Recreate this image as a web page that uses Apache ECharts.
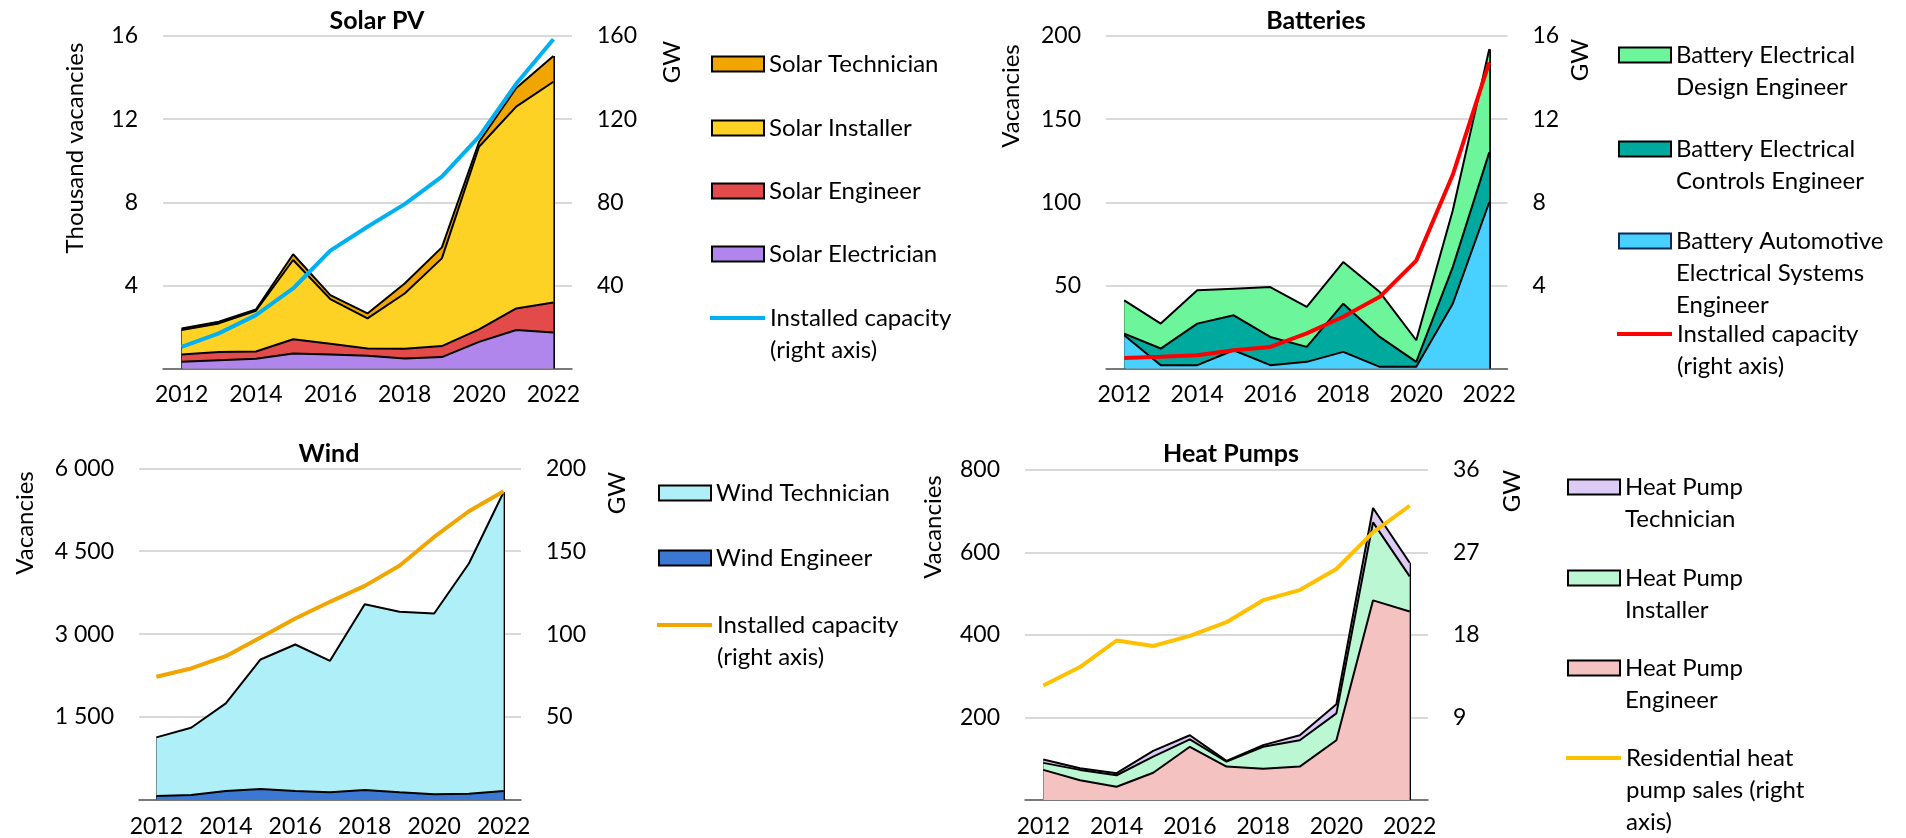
<!DOCTYPE html>
<html>
<head>
<meta charset="utf-8">
<title>Clean energy vacancies</title>
<script src="https://cdn.jsdelivr.net/npm/echarts@6.0.0/dist/echarts.min.js"></script>
<style>
  html, body { margin: 0; padding: 0; background: #fff; }
  #chart { width: 1906px; height: 838px; }
</style>
</head>
<body>
<div id="chart"></div>
<script>
const years = ['2012', '2013', '2014', '2015', '2016', '2017', '2018', '2019', '2020', '2021', '2022'];

// Solar PV - thousand vacancies, capacity in GW
const solarElectrician = [0.32, 0.40, 0.47, 0.72, 0.67, 0.61, 0.48, 0.55, 1.28, 1.85, 1.73];
const solarEngineer = [0.35, 0.39, 0.35, 0.69, 0.52, 0.35, 0.47, 0.53, 0.60, 1.04, 1.45];
const solarInstaller = [1.18, 1.38, 1.96, 3.81, 2.15, 1.45, 2.66, 4.22, 8.79, 9.71, 10.62];
const solarTechnician = [0.08, 0.08, 0.06, 0.28, 0.19, 0.24, 0.48, 0.53, 0.23, 0.90, 1.24];
const solarCapacity = [10.4, 16.9, 25.7, 38.5, 56.7, 68.2, 79.1, 92.3, 111.6, 137, 158.4];

// Batteries - vacancies, capacity in GW
const batteryAutomotive = [20, 2, 2, 11, 2, 4, 10, 1, 1, 39, 100];
const batteryControls = [1, 10, 25, 21, 17, 9, 29, 18, 3, 22, 30];
const batteryDesign = [20, 15, 20, 16, 30, 24, 25, 27, 13, 34, 62];
const batteryCapacity = [0.51, 0.56, 0.64, 0.88, 1.04, 1.69, 2.49, 3.45, 5.19, 9.32, 14.73];

// Wind - vacancies, capacity in GW
const windEngineer = [72, 90, 163, 199, 163, 139, 181, 139, 102, 114, 163];
const windTechnician = [1061, 1217, 1584, 2343, 2650, 2379, 3361, 3265, 3271, 4163, 5409];
const windCapacity = [74.3, 79.3, 86.7, 98, 109.4, 119.5, 129.1, 141.2, 158.6, 174.1, 186.2];

// Heat pumps - vacancies, residential sales in GW
const hpEngineer = [73, 48, 32, 66, 129, 81, 76, 81, 145, 484, 457];
const hpInstaller = [17, 25, 28, 39, 18, 12, 53, 64, 65, 189, 85];
const hpTechnician = [8, 4, 5, 14, 10, 2, 4, 12, 22, 35, 33];
const hpSales = [12.5, 14.5, 17.4, 16.8, 17.9, 19.4, 21.8, 22.9, 25.2, 29.2, 32.1];

// axis ranges
const solarAxis = { leftMax: 16, leftStep: 4, rightMax: 160, rightStep: 40 };
const batteryAxis = { leftMax: 200, leftStep: 50, rightMax: 16, rightStep: 4 };
const windAxis = { leftMax: 6000, leftStep: 1500, rightMax: 200, rightStep: 50 };
const hpAxis = { leftMax: 800, leftStep: 200, rightMax: 36, rightStep: 9 };

const FONT = 'Lato';
const spaced = v => String(v).replace(/\B(?=(\d{3})+(?!\d))/g, ' ');

const panels = [
  {
    title: 'Solar PV', titlePos: [377, 8], grid: [163, 36, 409, 332.5], axis: solarAxis,
    leftName: 'Thousand vacancies', leftNamePos: [75, 148], gwPos: [672, 62],
    areas: [
      { name: 'Solar Electrician', data: solarElectrician, color: '#B085EC' },
      { name: 'Solar Engineer', data: solarEngineer, color: '#E34B4B' },
      { name: 'Solar Installer', data: solarInstaller, color: '#FDD225' },
      { name: 'Solar Technician', data: solarTechnician, color: '#F0A500' }
    ],
    line: { name: 'Solar capacity', label: 'Installed capacity\n(right axis)', data: solarCapacity, color: '#00B0F0' },
    legendX: 711, legendY: [63, 127, 190, 253, 317]
  },
  {
    title: 'Batteries', titlePos: [1316, 8], grid: [1106, 36, 401.5, 332.5], axis: batteryAxis,
    leftName: 'Vacancies', leftNamePos: [1011, 96], gwPos: [1580, 60],
    areas: [
      { name: 'Battery Automotive Electrical Systems Engineer', label: 'Battery Automotive\nElectrical Systems\nEngineer', data: batteryAutomotive, color: '#48D1FF', border: '#0B2A5A' },
      { name: 'Battery Electrical Controls Engineer', label: 'Battery Electrical\nControls Engineer', data: batteryControls, color: '#00A99D' },
      { name: 'Battery Electrical Design Engineer', label: 'Battery Electrical\nDesign Engineer', data: batteryDesign, color: '#6CF59A' }
    ],
    line: { name: 'Battery capacity', label: 'Installed capacity\n(right axis)', data: batteryCapacity, color: '#FF0000' },
    legendX: 1618, legendY: [54, 148, 240, 333]
  },
  {
    title: 'Wind', titlePos: [329, 441], grid: [139, 468.3, 382, 331.7], axis: windAxis, leftFmt: spaced,
    leftName: 'Vacancies', leftNamePos: [25, 523], gwPos: [617, 493],
    areas: [
      { name: 'Wind Engineer', data: windEngineer, color: '#3A78D4' },
      { name: 'Wind Technician', data: windTechnician, color: '#AEEFF8' }
    ],
    line: { name: 'Wind capacity', label: 'Installed capacity\n(right axis)', data: windCapacity, color: '#F0A500' },
    legendX: 658, legendY: [492, 557, 624]
  },
  {
    title: 'Heat Pumps', titlePos: [1231, 441], grid: [1025, 470, 403, 330], axis: hpAxis,
    leftName: 'Vacancies', leftNamePos: [933, 527], gwPos: [1512, 491],
    areas: [
      { name: 'Heat Pump Engineer', label: 'Heat Pump\nEngineer', data: hpEngineer, color: '#F5C2C2' },
      { name: 'Heat Pump Installer', label: 'Heat Pump\nInstaller', data: hpInstaller, color: '#BAF7D2' },
      { name: 'Heat Pump Technician', label: 'Heat Pump\nTechnician', data: hpTechnician, color: '#DCCBF5' }
    ],
    line: { name: 'Heat pump sales', label: 'Residential heat\npump sales (right\naxis)', data: hpSales, color: '#FFC000' },
    legendX: 1567, legendY: [486, 577, 667, 757]
  }
];

const LH = 32; // legend line height

const option = {
  animation: false,
  backgroundColor: '#fff',
  textStyle: { fontFamily: FONT },
  title: [], grid: [], xAxis: [], yAxis: [], series: [], legend: [], graphic: []
};

// one legend per entry so the swatch sits next to the first text line
function addLegend(x, y, name, label, isLine, color, border) {
  const lines = label.split('\n').length;
  const w = isLine ? 55 : 52;
  const h = isLine ? 4 : 15;
  const fullH = h + (lines - 1) * LH;
  let icon = 'path://M0,0H' + w + 'V' + h + 'H0Z';
  if (lines > 1) icon += 'M0,' + fullH;
  option.legend.push({
    data: [name],
    left: x,
    top: y - 15,
    padding: 0,
    orient: 'vertical',
    selectedMode: false,
    icon: icon,
    itemWidth: w,
    itemHeight: fullH,
    itemGap: 0,
    itemStyle: isLine ? { color: color, borderWidth: 0 } : { color: color, borderColor: border || '#000', borderWidth: 2 },
    lineStyle: { width: 0 },
    formatter: () => label,
    textStyle: { fontFamily: FONT, fontSize: 24, color: '#000', lineHeight: LH }
  });
}

panels.forEach((p, i) => {
  option.title.push({
    text: p.title, left: p.titlePos[0], top: p.titlePos[1], textAlign: 'center', padding: 0,
    textStyle: { fontFamily: FONT, fontSize: 25, fontWeight: 'bold', color: '#000' }
  });
  option.grid.push({ left: p.grid[0], top: p.grid[1], width: p.grid[2], height: p.grid[3], containLabel: false, outerBoundsMode: 'none' });
  option.xAxis.push({
    type: 'category', gridIndex: i, data: years, boundaryGap: true,
    axisTick: { show: false },
    axisLine: { lineStyle: { color: '#595959', width: 1.5 } },
    axisLabel: { interval: 1, color: '#000', fontFamily: FONT, fontSize: 23, margin: 15 }
  });
  option.yAxis.push({
    type: 'value', gridIndex: i, position: 'left', min: 0, max: p.axis.leftMax, interval: p.axis.leftStep,
    axisLine: { show: false }, axisTick: { show: false },
    splitLine: { lineStyle: { color: '#D9D9D9', width: 2 } },
    axisLabel: { showMinLabel: false, color: '#000', fontFamily: FONT, fontSize: 23, margin: 25, formatter: p.leftFmt }
  });
  option.yAxis.push({
    type: 'value', gridIndex: i, position: 'right', min: 0, max: p.axis.rightMax, interval: p.axis.rightStep,
    axisLine: { show: false }, axisTick: { show: false }, splitLine: { show: false },
    axisLabel: { showMinLabel: false, color: '#000', fontFamily: FONT, fontSize: 23, margin: 25 }
  });

  // outer edges of the stacked block at first and last year
  const last = years.length - 1;
  const totals = years.map((_, k) => p.areas.reduce((s, a) => s + a.data[k], 0));

  p.areas.forEach((a, j) => {
    const s = {
      type: 'line', name: a.name, xAxisIndex: i, yAxisIndex: 2 * i, stack: 'panel' + i,
      data: a.data, symbol: 'none', color: a.color, z: 2,
      lineStyle: { color: '#000', width: 2 },
      areaStyle: { color: a.color, opacity: 1 },
      emphasis: { disabled: true }
    };
    if (j === p.areas.length - 1) {
      s.markLine = {
        silent: true, symbol: ['none', 'none'], z: 2,
        label: { show: false },
        lineStyle: { color: '#000', width: 2, type: 'solid' },
        emphasis: { disabled: true },
        data: [
          [{ coord: [years[0], 0] }, { coord: [years[0], totals[0]] }],
          [{ coord: [years[last], 0] }, { coord: [years[last], totals[last]] }]
        ]
      };
    }
    option.series.push(s);
  });
  option.series.push({
    type: 'line', name: p.line.name, xAxisIndex: i, yAxisIndex: 2 * i + 1,
    data: p.line.data, symbol: 'none', color: p.line.color, z: 3,
    lineStyle: { color: p.line.color, width: 4 },
    emphasis: { disabled: true }
  });

  // legend, top to bottom: top band first, then the line
  const order = p.areas.slice().reverse();
  order.forEach((a, j) => addLegend(p.legendX, p.legendY[j], a.name, a.label || a.name, false, a.color, a.border));
  addLegend(p.legendX - 1, p.legendY[order.length], p.line.name, p.line.label, true, p.line.color);

  // rotated axis names
  [[p.leftName, p.leftNamePos], ['GW', p.gwPos]].forEach(([t, pos]) => {
    option.graphic.push({
      type: 'text', x: pos[0], y: pos[1], rotation: Math.PI / 2, silent: true,
      style: { text: t, fontFamily: FONT, fontSize: 24, fill: '#000', align: 'center', verticalAlign: 'middle' }
    });
  });
});

const chart = echarts.init(document.getElementById('chart'));
chart.setOption(option);
window.addEventListener('resize', () => chart.resize());
</script>
</body>
</html>
